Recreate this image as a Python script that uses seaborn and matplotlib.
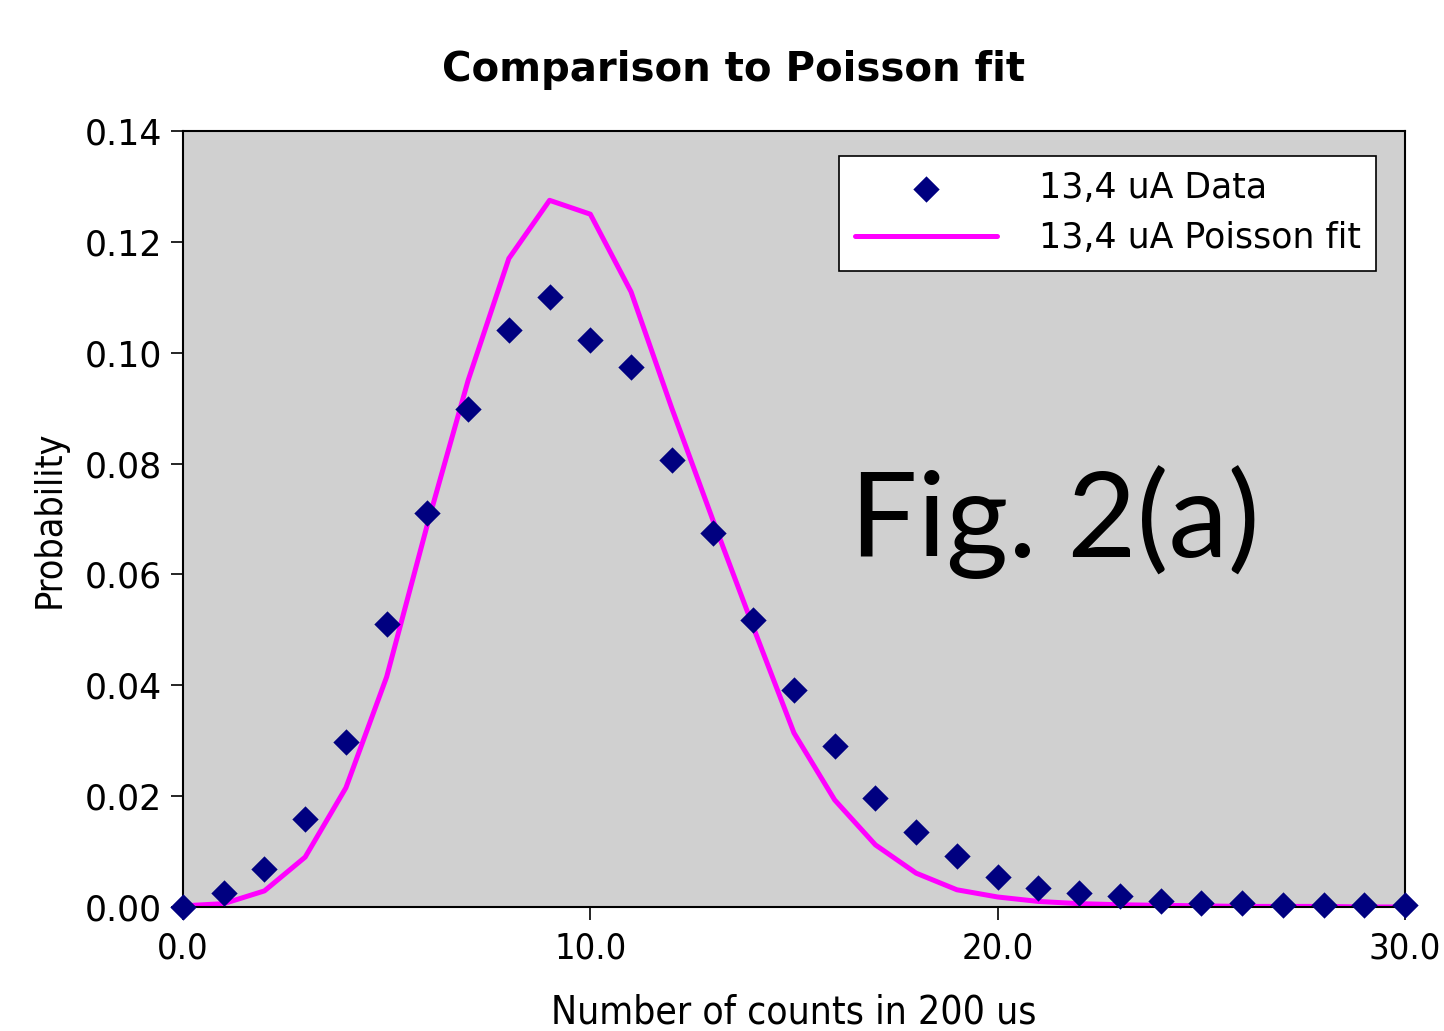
import matplotlib.pyplot as plt
import numpy as np
import pandas as pd
import seaborn as sns

# 数据
counts = list(range(31))
data_prob = [0.0000, 0.0025, 0.0069, 0.0159, 0.0298, 0.0511, 0.0711, 0.0898,
             0.1041, 0.1100, 0.1023, 0.0974, 0.0806, 0.0675, 0.0518, 0.0391,
             0.0290, 0.0197, 0.0135, 0.0092, 0.0054, 0.0034, 0.0025, 0.0019,
             0.0011, 0.0007, 0.0007, 0.0003, 0.0003, 0.0003, 0.0003]
fit_prob = [0.0002, 0.0006, 0.0029, 0.0090, 0.0215, 0.0415, 0.0690, 0.0950,
            0.1170, 0.1275, 0.1250, 0.1110, 0.0900, 0.0700, 0.0505, 0.0314,
            0.0193, 0.0112, 0.0061, 0.0031, 0.0018, 0.0010, 0.0006, 0.0004,
            0.0003, 0.0002, 0.0001, 0.0001, 0.0001, 0.0000, 0.0000]
data_label = "13,4 uA Data"
fit_label = "13,4 uA Poisson fit"

df = pd.DataFrame({"n": counts, "data": data_prob, "fit": fit_prob})

sns.set_style("ticks")
plt.rcParams['font.family'] = ['DejaVu Sans']
plt.rcParams['text.color'] = 'black'
plt.rcParams['axes.labelcolor'] = 'black'

fig = plt.figure(figsize=(14.44, 10.31), dpi=100)
ax = fig.add_axes([0.1267, 0.1203, 0.8463, 0.7526])
ax.set_facecolor("#d0d0d0")

sns.lineplot(data=df, x="n", y="fit", ax=ax, color="#ff00ff", lw=3.6,
             label=fit_label, zorder=2)
sns.scatterplot(data=df, x="n", y="data", ax=ax, marker="D", s=180,
                color="#000080", linewidth=0, label=data_label,
                zorder=3, clip_on=False)

ax.set_xlim(0, 30)
ax.set_ylim(0, 0.14)
ax.set_xticks([0, 10, 20, 30])
ax.set_xticklabels(["0.0", "10.0", "20.0", "30.0"], fontstretch="condensed")
ax.set_yticks(np.arange(0, 0.141, 0.02))
ax.set_yticklabels(["%.2f" % v for v in np.arange(0, 0.141, 0.02)])
ax.tick_params(direction="out", length=9, width=1.2, colors="black", pad=6)
ax.tick_params(axis="y", labelsize=25)
ax.tick_params(axis="x", labelsize=26, pad=9)
for s in ax.spines.values():
    s.set_linewidth(1.5)
    s.set_color("black")

ax.set_xlabel("Number of counts in 200 us", fontsize=28, labelpad=20,
              fontstretch="condensed")
ax.set_ylabel("Probability", fontsize=27, labelpad=12,
              fontstretch="condensed")
fig.text(733 / 1444, 1 - 70 / 1031, "Comparison to Poisson fit", fontsize=29,
         fontweight="bold", ha="center", va="center")

# 图例：数据在上，拟合在下
h, l = ax.get_legend_handles_labels()
order = [l.index(data_label), l.index(fit_label)]
leg = ax.legend([h[i] for i in order], [l[i] for i in order],
                loc="upper right", bbox_to_anchor=(0.9765, 0.968),
                fontsize=25, frameon=True, fancybox=False, framealpha=1,
                edgecolor="black", handlelength=4.1, handletextpad=1.2,
                borderpad=0.45, labelspacing=0.45, borderaxespad=0)
leg.get_frame().set_linewidth(1.2)

ax.text(21.4, 0.0695, "Fig. 2(a)", fontsize=86, ha="center", va="center",
        family=["Lato", "DejaVu Sans"], color="black")

plt.savefig("out.png", dpi=100)
plt.close()
